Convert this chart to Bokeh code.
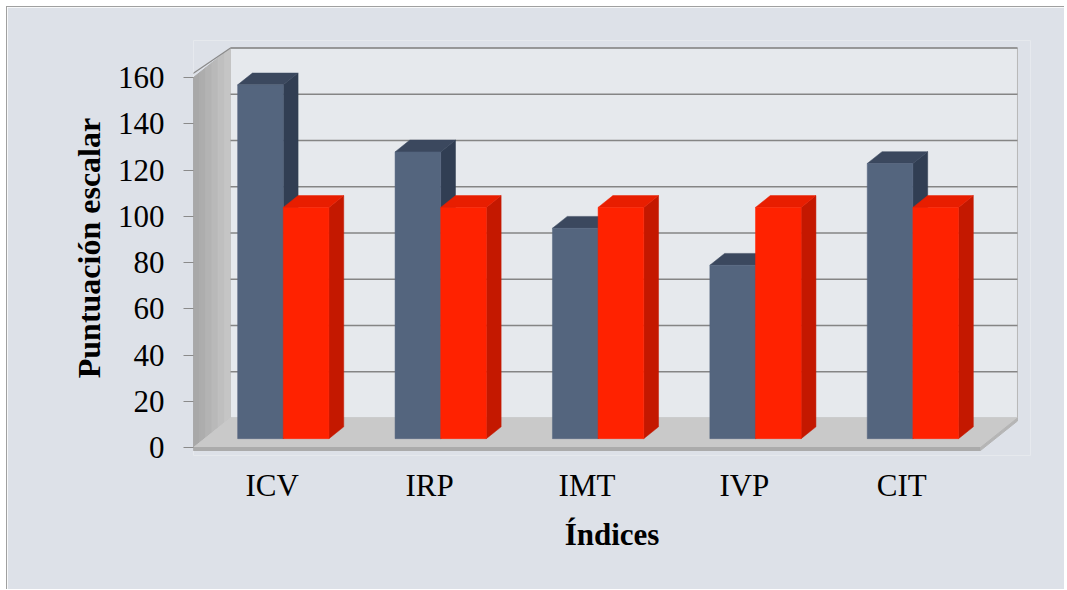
from bokeh.plotting import figure
from bokeh.models import Range1d, FixedTicker, ColumnDataSource
from bokeh.embed import file_html
from bokeh.resources import INLINE

# ---- data ----
categories = ["ICV", "IRP", "IMT", "IVP", "CIT"]
paciente = [153, 124, 91, 75, 119]
media = [100, 100, 100, 100, 100]
y_ticks = [0, 20, 40, 60, 80, 100, 120, 140, 160]
y_max = 160

# ---- 3D projection (depth d in [0,1] -> offset) ----
DXu = 0.235    # x offset of back plane, in category units
DYu = 12.76    # y offset of back plane, in value units
def P(x, y, d):
    return x + d * DXu, y + d * DYu

n = len(categories)
p = figure(width=1058, height=583,
           x_range=Range1d(0, 5.3177), y_range=Range1d(-3.459, 176.0),
           output_backend="svg", toolbar_location=None,
           min_border_left=186, min_border_right=35,
           min_border_top=33, min_border_bottom=135)
p.styles = {"border-top": "1px solid #A0A0A0", "border-left": "1px solid #A0A0A0",
            "margin-left": "6px", "margin-top": "6px"}
p.background_fill_color = "#DDE1E8"
p.border_fill_color = "#DDE1E8"
p.outline_line_color = None
p.grid.visible = False

xs, ys, fills, lines = [], [], [], []
def add(pts, fill, line=None):
    xs.append([q[0] for q in pts]); ys.append([q[1] for q in pts])
    fills.append(fill); lines.append(line if line else fill)

# back wall
add([P(0, 0, 1), P(n, 0, 1), P(n, y_max, 1), P(0, y_max, 1)], "#E6E9ED", "#B8B8B8")
# left wall in depth strips (gradient)
wall_cols = ["#A8A8A8", "#ADADAD", "#B3B3B3", "#B9B9B9", "#BFBFBF", "#C5C5C5"]
k = len(wall_cols)
for j, c in enumerate(wall_cols):
    d0, d1 = j / k, (j + 1) / k
    add([P(0, 0, d0), P(0, 0, d1), P(0, y_max, d1), P(0, y_max, d0)], c)
# wall front edge thickness
add([(-0.019, -1.3), (0, -1.3), (0, y_max), (-0.019, y_max + 1.0)], "#9C9C9C")
# floor
add([P(0, 0, 0), P(n, 0, 0), P(n, 0, 1), P(0, 0, 1)], "#C9C9C9")
add([P(0, -1.3, 0), P(n, -1.3, 0), P(n, 0, 0), P(0, 0, 0)], "#ABABAB")
add([P(n, -1.3, 0), P(n, -1.3, 1), P(n, 0, 1), P(n, 0, 0)], "#B5B5B5")

p.patches(xs="xs", ys="ys", fill_color="fills", line_color="lines", line_width=1,
          source=ColumnDataSource(dict(xs=xs, ys=ys, fills=fills, lines=lines)))

# gridlines on back wall
gx, gy = [], []
for v in y_ticks[1:]:
    a, b = P(0, v, 1), P(n, v, 1)
    gx.append([a[0], b[0]]); gy.append([a[1], b[1]])
p.multi_line(gx, gy, line_color="#858585", line_width=1.6)
# wall top edge
a, b = P(0, y_max, 0), P(0, y_max, 1)
p.line([a[0] - 0.019, b[0]], [a[1] + 1.0, b[1]], line_color="#8A8A8A", line_width=1.2)

# bars
xs, ys, fills = [], [], []
blue = ("#54657E", "#313E53", "#3B485E")
red = ("#FF2200", "#C41800", "#E81E00")
d0, d1 = 0.3, 0.7
def addb(pts, fill):
    xs.append([q[0] for q in pts]); ys.append([q[1] for q in pts]); fills.append(fill)
for i in range(n):
    for x0, x1, v, cols in [(i + 0.21, i + 0.5, paciente[i], blue),
                            (i + 0.5, i + 0.79, media[i], red)]:
        addb([P(x1, 0, d0), P(x1, 0, d1), P(x1, v, d1), P(x1, v, d0)], cols[1])
        addb([P(x0, v, d0), P(x1, v, d0), P(x1, v, d1), P(x0, v, d1)], cols[2])
        addb([P(x0, 0, d0), P(x1, 0, d0), P(x1, v, d0), P(x0, v, d0)], cols[0])
p.patches(xs="xs", ys="ys", fill_color="fills", line_color="fills", line_width=0.5,
          source=ColumnDataSource(dict(xs=xs, ys=ys, fills=fills)))

# axes
FONT = "Liberation Serif"
ya = p.yaxis[0]
ya.ticker = FixedTicker(ticks=y_ticks)
ya.bounds = (0, y_max)
ya.axis_line_color = None
ya.major_tick_out = 10
ya.major_tick_in = 0
ya.major_tick_line_color = "#8A8A8A"
ya.minor_tick_line_color = None
ya.major_label_standoff = 19
ya.major_label_text_font = FONT
ya.major_label_text_font_size = "31px"
ya.major_label_text_color = "black"
ya.axis_label = "Puntuación escalar"
ya.axis_label_text_font = FONT
ya.axis_label_text_font_size = "32px"
ya.axis_label_text_font_style = "bold"
ya.axis_label_text_color = "black"
ya.axis_label_standoff = 8

xa = p.xaxis[0]
xa.ticker = FixedTicker(ticks=[i + 0.5 for i in range(n)])
xa.major_label_overrides = {i + 0.5: c for i, c in enumerate(categories)}
xa.axis_line_color = None
xa.major_tick_line_color = None
xa.minor_tick_line_color = None
xa.major_label_standoff = 6
xa.major_label_text_font = FONT
xa.major_label_text_font_size = "31px"
xa.major_label_text_color = "black"
xa.axis_label = "Índices"
xa.axis_label_text_font = FONT
xa.axis_label_text_font_size = "31px"
xa.axis_label_text_font_style = "bold"
xa.axis_label_text_color = "black"
xa.axis_label_standoff = 11

open("out.html", "w").write(file_html(p, INLINE))
